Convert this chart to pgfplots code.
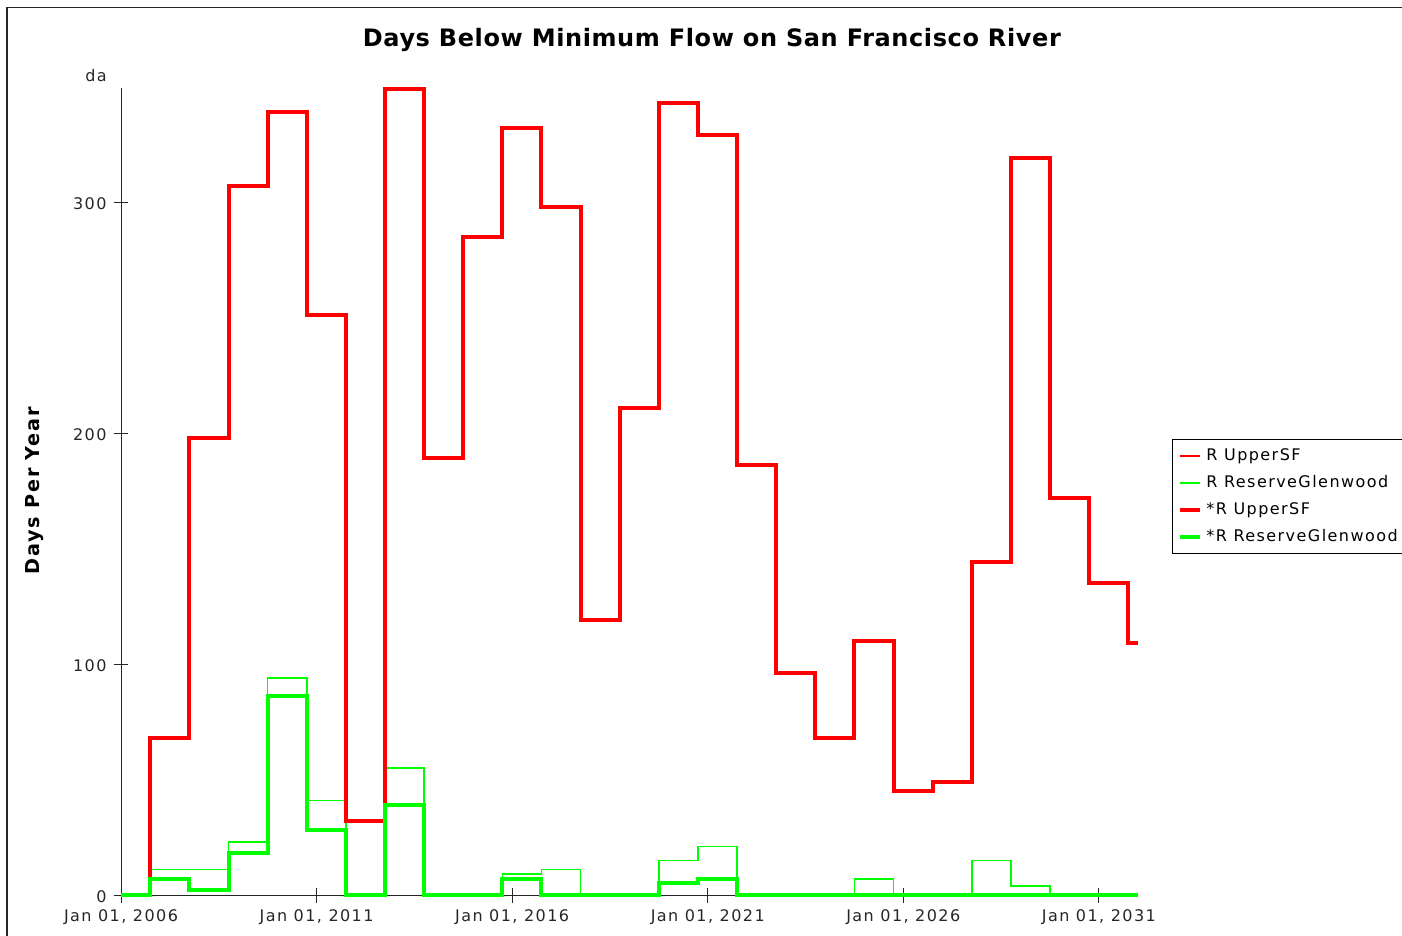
\documentclass[border=0pt]{standalone}
\usepackage{fontspec}
\setmainfont{DejaVu Sans}
\newfontfamily\tickfont{DejaVu Sans}[LetterSpace=9]
\newfontfamily\titlefont{DejaVu Sans}[LetterSpace=2.5]
\usepackage{pgfplots}
\pgfplotsset{compat=1.18}
\usepackage{pgfplotstable}
\definecolor{pred}{RGB}{255,0,0}
\definecolor{pgreen}{RGB}{0,255,0}

\pgfplotstableread{
x y
2006.00 0
2006.75 68
2007.75 198
2008.75 307
2009.75 339
2010.75 251
2011.75 32
2012.75 349
2013.75 189
2014.75 285
2015.75 332
2016.75 298
2017.75 119
2018.75 211
2019.75 343
2020.75 329
2021.75 186
2022.75 96
2023.75 68
2024.75 110
2025.75 45
2026.75 49
2027.75 144
2028.75 319
2029.75 172
2030.75 135
2031.75 109
2032.00 109
}\upper

\pgfplotstableread{
x y
2006.00 0
2006.75 11
2007.75 11
2008.75 23
2009.75 94
2010.75 41
2011.75 0
2012.75 55
2013.75 0
2014.75 0
2015.75 9
2016.75 11
2017.75 0
2018.75 0
2019.75 15
2020.75 21
2021.75 0
2022.75 0
2023.75 0
2024.75 7
2025.75 0
2026.75 0
2027.75 15
2028.75 4
2029.75 0
2030.75 0
2031.75 0
2032.00 0
}\reservethin

\pgfplotstableread{
x y
2006.00 0
2006.75 7
2007.75 2
2008.75 18
2009.75 86
2010.75 28
2011.75 0
2012.75 39
2013.75 0
2014.75 0
2015.75 7
2016.75 0
2017.75 0
2018.75 0
2019.75 5
2020.75 7
2021.75 0
2022.75 0
2023.75 0
2024.75 0
2025.75 0
2026.75 0
2027.75 0
2028.75 0
2029.75 0
2030.75 0
2031.75 0
2032.00 0
}\reservethick

\begin{document}
\begin{tikzpicture}
\useasboundingbox (0pt,0pt) rectangle (701pt,-468pt);
\draw[line width=0.9pt,black!85] (3.5pt,-500pt) -- (3.5pt,-3.75pt) -- (750pt,-3.75pt);
\begin{axis}[
  at={(60.5pt,-447.5pt)}, anchor=origin,
  scale only axis,
  width=508.5pt, height=403.5pt,
  xmin=2006, xmax=2032, ymin=0, ymax=349.4,
  clip=false,
  axis lines*=left,
  axis line style={black!85, line width=0.5pt},
  tick align=center,
  major tick length=7.5pt,
  tick style={black!85, line width=0.5pt},
  xtick={2006,2011,2016,2021,2026,2031},
  xticklabels={{Jan 01, 2006},{Jan 01, 2011},{Jan 01, 2016},{Jan 01, 2021},{Jan 01, 2026},{Jan 01, 2031}},
  ytick={0,100,200,300},
  /pgf/number format/assume math mode=true,
  ticklabel style={font=\tickfont\fontsize{8pt}{10pt}\selectfont, text=black!85},
  xticklabel style={yshift=0pt},
  yticklabel style={yshift=-0.6pt},
  ylabel={\textbf{Days Per Year}},
  ylabel style={at={(axis description cs:-0.0846,0.502)}, anchor=center, font=\tickfont\fontsize{9.6pt}{12pt}\selectfont},
  legend style={at={(axis description cs:1.0334,0.565)}, anchor=north west,
    draw=black, line width=0.5pt, font=\tickfont\fontsize{8pt}{10pt}\selectfont,
    row sep=1.9pt, inner xsep=3pt, inner ysep=2.6pt,
    cells={anchor=west}},
  legend image code/.code={\draw[#1] (0pt,0pt) -- (10pt,0pt);},
]
\addplot[const plot, draw=pred, line width=0.75pt] table[x=x,y=y] {\upper};
\addlegendentry{R UpperSF}
\addplot[const plot, draw=pgreen, line width=0.75pt] table[x=x,y=y] {\reservethin};
\addlegendentry{R ReserveGlenwood}
\addplot[const plot, draw=pred, line width=2pt] table[x=x,y=y] {\upper};
\addlegendentry{*R UpperSF}
\addplot[const plot, draw=pgreen, line width=2pt] table[x=x,y=y] {\reservethick};
\addlegendentry{*R ReserveGlenwood}
\node[font=\tickfont\fontsize{8pt}{10pt}\selectfont, text=black!85] at (axis description cs:-0.0246,1.016) {da};
\node[font=\titlefont\fontsize{12pt}{14pt}\selectfont\bfseries] at (axis description cs:0.581,1.0595) {Days Below Minimum Flow on San Francisco River};
\end{axis}
\end{tikzpicture}
\end{document}
